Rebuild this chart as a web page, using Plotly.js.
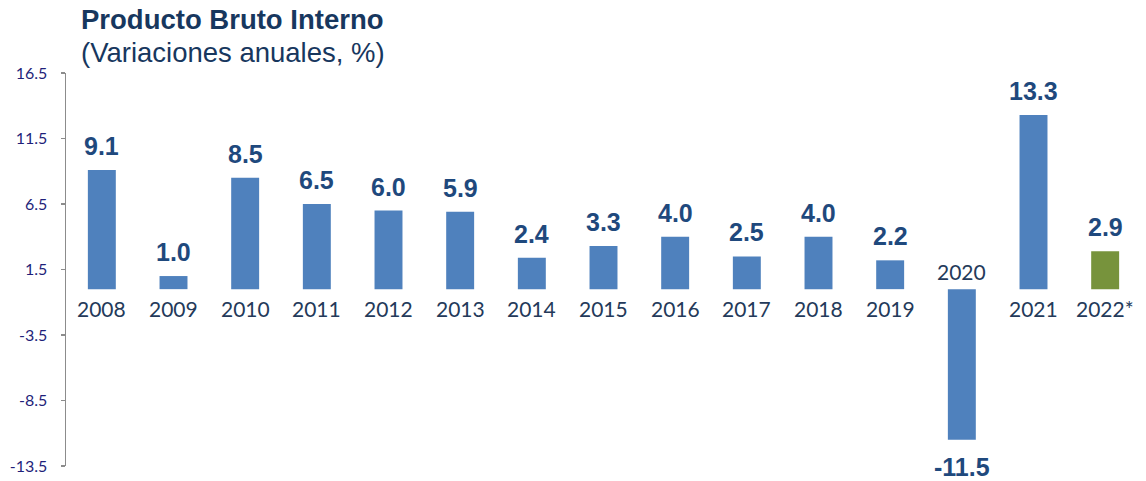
<!DOCTYPE html>
<html>
<head>
<meta charset="utf-8">
<script src="https://cdn.plot.ly/plotly-3.0.1.min.js"></script>
<style>html,body{margin:0;padding:0;background:#fff;}#chart{width:1146px;height:481px;}</style>
</head>
<body>
<div id="chart"></div>
<script>
const categories = ["2008","2009","2010","2011","2012","2013","2014","2015","2016","2017","2018","2019","2020","2021","2022*"];
const values = [9.1, 1.0, 8.5, 6.5, 6.0, 5.9, 2.4, 3.3, 4.0, 2.5, 4.0, 2.2, -11.5, 13.3, 2.9];
const valueLabels = ["9.1","1.0","8.5","6.5","6.0","5.9","2.4","3.3","4.0","2.5","4.0","2.2","-11.5","13.3","2.9"];
const yTicks = [-13.5, -8.5, -3.5, 1.5, 6.5, 11.5, 16.5];
const yTickLabels = ["-13.5","-8.5","-3.5","1.5","6.5","11.5","16.5"];
const titleText = "Producto Bruto Interno";
const subtitleText = "(Variaciones anuales, %)";

const BLUE = "#4F81BD", GREEN = "#77933C";
const colors = categories.map(c => c.indexOf("*") >= 0 ? GREEN : BLUE);

const annotations = [];
categories.forEach((c, i) => {
  const v = values[i];
  annotations.push({
    x: i, y: v, xref: "x", yref: "y", text: "<b>" + valueLabels[i] + "</b>", showarrow: false,
    yshift: v >= 0 ? 24 : -27, xanchor: "center", yanchor: "middle",
    font: {family: "Liberation Sans, Arial, sans-serif", size: 25, color: "#1F497D"}
  });
  annotations.push({
    x: i, y: 0, xref: "x", yref: "y", text: c, showarrow: false,
    yshift: v >= 0 ? -19 : 18, xanchor: "center", yanchor: "middle",
    font: {family: "Lato, sans-serif", size: 21, color: "#243A5A"}
  });
});
annotations.push({
  xref: "paper", yref: "paper", x: (79 - 66) / 1075, y: (466 - 20) / 393, xanchor: "left", yanchor: "middle",
  text: "<b>" + titleText + "</b>", showarrow: false,
  font: {family: "Liberation Sans, Arial, sans-serif", size: 27.5, color: "#17375E"}
});
annotations.push({
  xref: "paper", yref: "paper", x: (79 - 66) / 1075, y: (466 - 52) / 393, xanchor: "left", yanchor: "middle",
  text: subtitleText, showarrow: false,
  font: {family: "Liberation Sans, Arial, sans-serif", size: 27.5, color: "#17375E"}
});

const trace = {
  type: "bar", x: categories, y: values,
  marker: {color: colors, line: {width: 0}},
  hoverinfo: "x+y"
};

const layout = {
  width: 1146, height: 481,
  margin: {l: 66, r: 5, t: 73, b: 15, pad: 0},
  paper_bgcolor: "#fff", plot_bgcolor: "#fff",
  showlegend: false,
  bargap: 0.61,
  xaxis: {type: "category", range: [-0.5, categories.length - 0.5], autorange: false,
          showticklabels: false, showline: false, showgrid: false, zeroline: false, ticks: "", fixedrange: true},
  yaxis: {
    range: [-13.5, 16.5], autorange: false, tickmode: "array", tickvals: yTicks, ticktext: yTickLabels,
    showgrid: false, zeroline: false, showline: true, linecolor: "#8C8C8C", linewidth: 1.5,
    ticks: "outside", ticklen: 4, tickcolor: "#8C8C8C", tickwidth: 1.5,
    ticklabelstandoff: 10,
    tickfont: {family: "Lato, sans-serif", size: 16, color: "#1F1F7A"}, fixedrange: true
  },
  annotations: annotations
};

Plotly.newPlot("chart", [trace], layout, {displayModeBar: false, staticPlot: true});
</script>
</body>
</html>
